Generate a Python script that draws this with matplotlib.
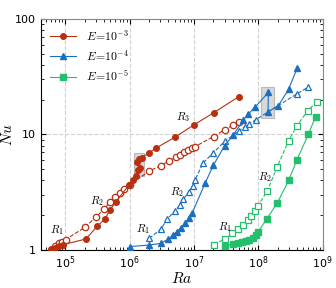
import matplotlib
matplotlib.use("Agg")
import matplotlib.pyplot as plt
from matplotlib.patches import Rectangle
import numpy as np

# E = 1e-3
ra3_f = [6.0e4, 6.9e4, 8.0e4, 9.1e4, 2.1e5, 3.15e5, 4.14e5, 4.95e5, 6.15e5, 9.8e5,
         1.13e6, 1.24e6, 1.34e6, 1.45e6, 1.29e6, 1.40e6, 1.54e6, 2.02e6, 2.55e6,
         5.1e6, 1.0e7, 2.02e7, 5.0e7]
nu3_f = [1.02, 1.05, 1.08, 1.11, 1.245, 1.61, 1.85, 2.22, 2.62, 3.65,
         4.04, 4.37, 4.93, 5.10, 5.82, 6.10, 6.30, 6.96, 7.6,
         9.5, 12.1, 15.4, 21.3]
ra3_o = [6.9e4, 8.1e4, 9.0e4, 1.01e5, 2.02e5, 3.03e5, 4.04e5, 5.0e5, 6.0e5, 7.1e5,
         8.2e5, 1.01e6, 2.02e6, 3.03e6, 4.14e6, 5.2e6, 6.1e6, 7.1e6, 8.2e6, 9.2e6,
         1.04e7, 2.02e7, 3.0e7, 4.0e7, 4.95e7]
nu3_o = [1.09, 1.14, 1.18, 1.23, 1.57, 1.94, 2.26, 2.62, 2.86, 3.10,
         3.35, 3.67, 4.83, 5.37, 5.93, 6.35, 6.65, 7.02, 7.34, 7.6,
         7.84, 9.6, 11.0, 12.0, 12.9]

# E = 1e-4
ra4_f = [1.01e6, 2.04e6, 3.03e6, 4.0e6, 4.8e6, 5.4e6, 6.24e6, 7.3e6, 8.4e6, 9.45e6,
         1.49e7, 2.0e7, 3.0e7, 4.1e7, 5.87e7, 7.0e7, 8.9e7, 1.44e8,
         1.42e8, 2.06e8, 2.96e8, 4.06e8]
nu4_f = [1.07, 1.105, 1.14, 1.24, 1.35, 1.44, 1.54, 1.70, 1.88, 2.10,
         3.78, 5.4, 8.0, 9.9, 13.4, 15.0, 17.2, 23.2,
         15.7, 17.8, 24.6, 37.9]
ra4_o = [2.02e6, 3.05e6, 3.86e6, 5.08e6, 6.08e6, 6.85e6, 8.4e6, 9.6e6, 1.04e7,
         1.4e7, 1.96e7, 3.05e7, 5.1e7, 6.2e7, 7.2e7, 9.1e7, 3.95e8, 5.9e8]
nu4_o = [1.26, 1.51, 1.85, 2.19, 2.45, 2.75, 3.20, 3.58, 4.04,
         5.70, 6.87, 8.79, 10.8, 11.7, 12.3, 13.4, 22.4, 25.6]

# E = 1e-5
ra5_f = [3.0e7, 4.05e7, 4.85e7, 5.6e7, 6.35e7, 7.2e7, 8.15e7, 9.1e7, 9.9e7,
         1.37e8, 1.98e8, 3.0e8, 4.0e8, 6.0e8, 7.8e8]
nu5_f = [1.08, 1.13, 1.15, 1.18, 1.20, 1.22, 1.27, 1.34, 1.43,
         1.87, 2.56, 4.04, 6.05, 10.0, 14.3]
ra5_o = [2.03e7, 3.0e7, 3.95e7, 4.85e7, 5.8e7, 6.94e7, 7.8e7, 9.0e7, 9.9e7,
         1.39e8, 1.98e8, 2.96e8, 3.95e8, 5.9e8, 8.1e8]
nu5_o = [1.11, 1.245, 1.395, 1.52, 1.66, 1.82, 1.98, 2.19, 2.42,
         3.26, 5.26, 8.84, 11.8, 16.1, 19.2]

c_red = '#b8300f'
c_blue = '#1b6fc2'
c_green = '#22c06a'

fig = plt.figure(figsize=(3.36, 2.88), dpi=100)
ax = fig.add_axes([0.122, 0.132, 0.838, 0.802])

ms = 4
lw = 0.8
ax.plot(ra3_f, nu3_f, '-o', color=c_red, ms=ms, lw=lw, label=r'$E\!=\!10^{-3}$', zorder=4)
ax.plot(ra3_o, nu3_o, '--o', color=c_red, ms=ms+0.6, lw=lw, mfc='white', mew=0.9, zorder=3)
ax.plot(ra4_f, nu4_f, '-^', color=c_blue, ms=ms, lw=lw, label=r'$E\!=\!10^{-4}$', zorder=4)
ax.plot(ra4_o, nu4_o, '--^', color=c_blue, ms=ms+0.6, lw=lw, mfc='white', mew=0.9, zorder=3)
ax.plot(ra5_f, nu5_f, '-s', color=c_green, ms=ms, lw=lw, label=r'$E\!=\!10^{-5}$', zorder=4)
ax.plot(ra5_o, nu5_o, '--s', color=c_green, ms=ms+0.6, lw=lw, mfc='white', mew=0.9, zorder=3)

# hysteresis boxes
ax.add_patch(Rectangle((1.17e6, 4.4), 1.66e6 - 1.17e6, 6.9 - 4.4,
                       facecolor='#b8b8b8', edgecolor='#909090', alpha=0.55, lw=0.8, zorder=2))
ax.add_patch(Rectangle((1.12e8, 13.8), 1.74e8 - 1.12e8, 25.6 - 13.8,
                       facecolor='#b8b8b8', edgecolor='#909090', alpha=0.55, lw=0.8, zorder=2))

# regime labels
fs_r = 8
for xx, yy, s in [(7.5e4, 1.49, r'$R_1$'), (3.15e5, 2.64, r'$R_2$'), (6.8e6, 14.1, r'$R_3$'),
                  (1.63e6, 1.52, r'$R_1$'), (5.5e6, 3.2, r'$R_2$'),
                  (3.0e7, 1.59, r'$R_1$'), (1.26e8, 4.26, r'$R_2$')]:
    ax.text(xx, yy, s, fontsize=fs_r, ha='center', va='center', zorder=5,
            math_fontfamily='cm')

ax.set_xscale('log')
ax.set_yscale('log')
ax.set_xlim(4.2e4, 1e9)
ax.set_ylim(1, 100)
ax.set_yticks([1, 10, 100])
ax.set_yticklabels(['1', '10', '100'])
ax.set_xticks([1e5, 1e6, 1e7, 1e8, 1e9])

ax.tick_params(which='both', direction='in', top=True, right=True, labelsize=8)
ax.tick_params(which='major', length=3.5, width=0.8)
ax.tick_params(which='minor', length=2, width=0.6)
ax.grid(True, which='major', ls='--', color='#d0d0d0', lw=0.8)
ax.set_axisbelow(True)
for sp in ['top', 'right']:
    ax.spines[sp].set_color('#888888')

ax.set_xlabel(r'$Ra$', fontsize=11, labelpad=0, math_fontfamily='cm')
ax.set_ylabel(r'$Nu$', fontsize=11, labelpad=0, math_fontfamily='cm')

leg = ax.legend(loc='upper left', frameon=False, fontsize=8.5, handlelength=2.2,
                borderaxespad=0.4, labelspacing=0.45)
for t in leg.get_texts():
    t.set_math_fontfamily('cm')

fig.savefig('out.png', dpi=100)
